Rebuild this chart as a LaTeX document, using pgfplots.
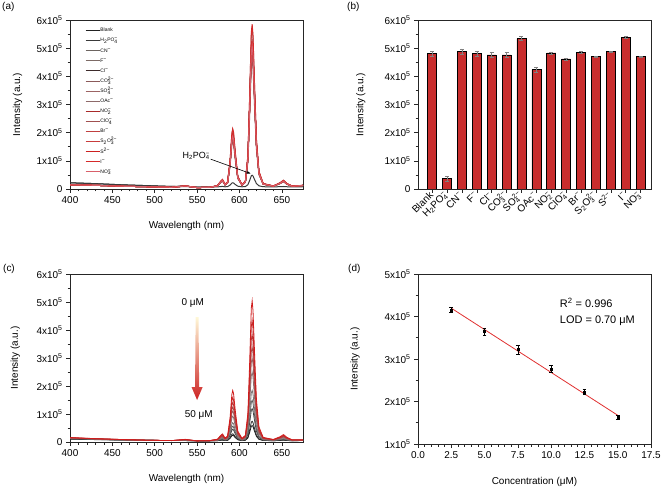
\documentclass[border=0pt]{standalone}
\usepackage{fontspec}
\setmainfont{Liberation Sans}
\usepackage{pgfplots}
\pgfplotsset{compat=1.18}
\usepackage{pgfplotstable}
\usetikzlibrary{arrows.meta}

% stacked sub/superscript for ions
\newsavebox\sbpA
\newsavebox\sbpB
\NewDocumentCommand{\sbp}{mm}{\sbox\sbpA{\textsubscript{#1}}\sbox\sbpB{\textsuperscript{#2}}\ifdim\wd\sbpA>\wd\sbpB\relax\rlap{\usebox\sbpB}\usebox\sbpA\else\rlap{\usebox\sbpA}\usebox\sbpB\fi}

\definecolor{barred}{RGB}{200,45,45}
\definecolor{aBlank}{HTML}{222222}
\definecolor{aHPO}{HTML}{3A3A3A}
\definecolor{aCN}{HTML}{6D6561}
\definecolor{aF}{HTML}{7D6B66}
\definecolor{aCl}{HTML}{3D2B2B}
\definecolor{aCO}{HTML}{8B5A5A}
\definecolor{aSO}{HTML}{9C6464}
\definecolor{aOAc}{HTML}{8E6A6A}
\definecolor{aNOii}{HTML}{A82A2A}
\definecolor{aClO}{HTML}{A05050}
\definecolor{aBr}{HTML}{C04040}
\definecolor{aSSO}{HTML}{C83C3C}
\definecolor{aS}{HTML}{CC2020}
\definecolor{aI}{HTML}{D52A2A}
\definecolor{aNOiii}{HTML}{D8606A}
\definecolor{c0}{HTML}{D01C1C}
\definecolor{c1}{HTML}{C42A2A}
\definecolor{c2}{HTML}{B83A3A}
\definecolor{c3}{HTML}{A85050}
\definecolor{c4}{HTML}{9A6262}
\definecolor{c5}{HTML}{8A7070}
\definecolor{c6}{HTML}{7A7474}
\definecolor{c7}{HTML}{5C5C5C}
\definecolor{c8}{HTML}{444444}
\definecolor{c9}{HTML}{2E2E2E}
\definecolor{c10}{HTML}{151515}
\definecolor{fitred}{HTML}{E03030}

% (a) emission spectra with anions, intensity in 1e5 a.u.
\pgfplotstableread{
x    blank h2po4 p455  p495  p505  p510  p515  p520  p570  p580
400  .22   .22   .15   .15   .15   .15   .15   .15   .15   .15
430  .19   .19   .13   .13   .13   .13   .13   .13   .13   .13
460  .15   .15   .10   .10   .10   .10   .10   .10   .10   .10
490  .12   .12   .08   .08   .08   .08   .08   .08   .08   .08
520  .09   .09   .06   .06   .06   .06   .06   .06   .06   .06
536  .107  .085  .10   .104  .106  .106  .107  .107  .112  .113
550  .05   .075  .05   .05   .05   .05   .05   .05   .05   .05
565  .06   .07   .059  .06   .06   .06   .06   .06   .061  .062
574  .112  .075  .105  .109  .111  .111  .112  .112  .118  .12
578  .256  .087  .232  .248  .252  .254  .256  .258  .278  .282
580  .308  .091  .278  .298  .303  .305  .308  .31   .335  .34
583  .153  .078  .141  .149  .151  .152  .153  .154  .164  .166
586  .23   .085  .209  .223  .227  .229  .23   .232  .25   .253
589  .926  .141  .824  .892  .909  .917  .926  .934  1.019 1.036
591  1.75  .209  1.552 1.684 1.717 1.733 1.75  1.766 1.931 1.964
592  1.904 .221  1.688 1.832 1.868 1.886 1.904 1.922 2.102 2.138
593  1.801 .213  1.597 1.733 1.767 1.784 1.801 1.818 1.988 2.022
595  1.183 .162  1.051 1.139 1.161 1.172 1.183 1.194 1.304 1.326
598  .411  .099  .369  .397  .404  .407  .411  .414  .449  .456
603  .143  .078  .132  .139  .141  .142  .143  .144  .153  .154
607  .256  .087  .232  .248  .252  .254  .256  .258  .278  .282
610  1.08  .154  .96   1.04  1.06  1.07  1.08  1.09  1.19  1.21
612  2.883 .301  2.553 2.773 2.828 2.855 2.883 2.91  3.185 3.24
614  4.943 .469  4.373 4.753 4.848 4.895 4.943 4.99  5.465 5.56
615  5.20  .49   4.60  5.00  5.10  5.15  5.20  5.25  5.75  5.85
616  4.84  .461  4.282 4.654 4.747 4.793 4.84  4.886 5.351 5.444
618  3.14  .322  2.78  3.02  3.08  3.11  3.14  3.17  3.47  3.53
620  1.595 .196  1.415 1.535 1.565 1.58  1.595 1.61  1.76  1.79
623  .565  .112  .505  .545  .555  .56   .565  .57   .62   .63
628  .179  .081  .164  .174  .176  .178  .179  .18   .193  .195
640  .102  .074  .096  .10   .101  .101  .102  .102  .107  .108
648  .205  .083  .187  .199  .202  .203  .205  .206  .221  .224
652  .282  .089  .255  .273  .277  .28   .282  .284  .307  .311
656  .179  .08   .164  .174  .176  .178  .179  .18   .193  .195
662  .101  .073  .096  .10   .10   .101  .101  .102  .106  .106
675  .126  .08   .123  .125  .125  .126  .126  .126  .129  .129
}\tabA

% (b) intensity at 615 nm, 1e5 a.u.
\pgfplotstableread{
x  y     e
0  4.80  0.08
1  0.37  0.08
2  4.88  0.10
3  4.80  0.09
4  4.76  0.09
5  4.76  0.09
6  5.34  0.07
7  4.24  0.08
8  4.83  0.03
9  4.62  0.03
10 4.85  0.03
11 4.70  0.03
12 4.88  0.03
13 5.38  0.03
14 4.70  0.02
}\tabB

% (c) titration spectra, 0 to 50 uM
\pgfplotstableread{
x   c0   c1    c2    c3    c4    c5    c6    c7    c8    c9    c10
400 .16  .155  .15   .145  .14   .135  .13   .12   .115  .11   .10
430 .12  .118  .115  .112  .11   .107  .104  .10   .095  .09   .085
460 .09  .09   .088  .086  .085  .083  .08   .078  .075  .072  .07
490 .065 .065  .064  .064  .063  .063  .062  .061  .06   .06   .06
520 .05  .05   .05   .05   .05   .05   .05   .05   .05   .05   .05
536 .095 .088  .083  .079  .075  .07   .063  .06   .057  .052  .051
550 .04  .04   .04   .04   .04   .04   .04   .04   .04   .04   .04
565 .05  .049  .048  .047  .046  .045  .044  .043  .042  .041  .041
574 .10  .092  .086  .08   .075  .069  .062  .057  .054  .048  .047
578 .24  .212  .192  .174  .158  .138  .112  .098  .086  .068  .062
580 .29  .255  .23   .208  .188  .163  .13   .113  .098  .075  .068
583 .14  .126  .116  .107  .099  .089  .076  .069  .063  .054  .051
586 .215 .191  .173  .157  .143  .126  .103  .091  .08   .065  .059
589 .89  .771  .686  .61   .542  .457  .346  .287  .236  .159  .134
591 1.69 1.459 1.294 1.146 1.014 .849  .634  .519  .42   .271  .222
592 1.84 1.588 1.408 1.246 1.102 .922  .688  .562  .454  .292  .238
593 1.74 1.502 1.332 1.179 1.043 .873  .652  .533  .431  .278  .227
595 1.14 .986  .876  .777  .689  .579  .436  .359  .293  .194  .161
598 .39  .341  .306  .275  .247  .212  .166  .142  .121  .089  .079
603 .13  .117  .108  .10   .093  .084  .072  .066  .061  .053  .05
607 .24  .212  .192  .174  .158  .138  .112  .098  .086  .068  .062
610 1.04 .90   .80   .71   .63   .53   .40   .33   .27   .18   .15
612 2.79 2.405 2.13  1.883 1.663 1.388 1.03  .838  .673  .425  .343
614 4.79 4.125 3.65  3.223 2.843 2.368 1.75  1.418 1.133 .705  .563
615 5.04 4.34  3.84  3.39  2.99  2.49  1.84  1.49  1.19  .74   .59
616 4.69 4.039 3.574 3.156 2.784 2.319 1.714 1.389 1.11  .691  .552
618 3.04 2.62  2.32  2.05  1.81  1.51  1.12  .91   .73   .46   .37
620 1.54 1.33  1.18  1.045 .925  .775  .58   .475  .385  .25   .205
623 .54  .47   .42   .375  .335  .285  .22   .185  .155  .11   .095
628 .165 .148  .135  .124  .114  .101  .085  .076  .069  .058  .054
640 .09  .083  .078  .074  .07   .065  .058  .055  .052  .047  .046
648 .19  .169  .154  .141  .129  .114  .094  .084  .075  .061  .057
652 .265 .234  .211  .191  .173  .15   .121  .105  .092  .072  .065
656 .165 .148  .135  .124  .114  .101  .085  .076  .069  .058  .054
662 .08  .074  .07   .067  .064  .06   .054  .052  .049  .046  .044
675 .075 .072  .069  .067  .065  .062  .059  .057  .056  .054  .053
}\tabC

\pgfplotsset{
  panel/.style={
    scale only axis, width=233bp,
    axis line style={line width=0.8bp, black!85},
    tick style={line width=0.6bp, black!85},
    tick align=outside, xtick pos=left, ytick pos=left,
    major tick length=4bp, minor tick length=2.5bp,
    tick label style={font=\fontsize{10}{12}\selectfont},
    label style={font=\fontsize{11}{13}\selectfont},
    /pgf/number format/assume math mode=true,
    every axis x label/.style={at={(axis description cs:0.5,-0.22)}, anchor=center},
    every axis y label/.style={at={(axis description cs:-0.225,0.5)}, rotate=90, anchor=center},
  },
  spec/.style={line width=1bp},
  specc/.style={line width=0.8bp},
  tenfive/.style={yticklabels={0,1x10\textsuperscript{5},2x10\textsuperscript{5},3x10\textsuperscript{5},4x10\textsuperscript{5},5x10\textsuperscript{5},6x10\textsuperscript{5}}},
}

\begin{document}
\begin{tikzpicture}
\path[use as bounding box] (0bp,0bp) rectangle (663bp,489bp);

% ---------------- (a)
\begin{axis}[panel, at={(70bp,300bp)}, anchor=south west, height=169bp,
  xmin=400, xmax=675, ymin=0, ymax=6,
  xtick={400,450,...,650}, minor x tick num=4,
  ytick={0,...,6}, minor y tick num=1, tenfive,
  xlabel={Wavelength (nm)}, ylabel={Intensity (a.u.)},
  legend cell align=left,
  legend style={at={(axis description cs:0.064,0.956)}, anchor=north west,
    draw=none, fill=none, inner sep=0pt, row sep=4.3bp,
    font=\fontsize{5}{5.5}\selectfont,
    nodes={inner sep=0.4bp, text height=3.8bp, text depth=1.2bp}},
  legend image code/.code={\draw[#1, line width=0.9bp] (0bp,0bp) -- (14bp,0bp);},
]
\addplot[spec, aBlank] table[x=x, y=blank] {\tabA}; \addlegendentry{Blank}
\addplot[spec, aHPO] table[x=x, y=h2po4] {\tabA}; \addlegendentry{H\textsubscript{2}PO\sbp{4}{−}}
\addplot[spec, aCN] table[x=x, y=p520] {\tabA}; \addlegendentry{CN\textsuperscript{−}}
\addplot[spec, aF] table[x=x, y=p515] {\tabA}; \addlegendentry{F\textsuperscript{−}}
\addplot[spec, aCl] table[x=x, y=p510] {\tabA}; \addlegendentry{Cl\textsuperscript{−}}
\addplot[spec, aCO] table[x=x, y=p510] {\tabA}; \addlegendentry{CO\sbp{3}{2−}}
\addplot[spec, aSO] table[x=x, y=p570] {\tabA}; \addlegendentry{SO\sbp{4}{2−}}
\addplot[spec, aOAc] table[x=x, y=p455] {\tabA}; \addlegendentry{OAc\textsuperscript{−}}
\addplot[spec, aNOii] table[x=x, y=p515] {\tabA}; \addlegendentry{NO\sbp{2}{−}}
\addplot[spec, aClO] table[x=x, y=p495] {\tabA}; \addlegendentry{ClO\sbp{4}{−}}
\addplot[spec, aBr] table[x=x, y=p520] {\tabA}; \addlegendentry{Br\textsuperscript{−}}
\addplot[spec, aSSO] table[x=x, y=p505] {\tabA}; \addlegendentry{S\textsubscript{2}O\sbp{3}{2−}}
\addplot[spec, aS] table[x=x, y=p520] {\tabA}; \addlegendentry{S\textsuperscript{2−}}
\addplot[spec, aI] table[x=x, y=p580] {\tabA}; \addlegendentry{I\textsuperscript{−}}
\addplot[spec, aNOiii] table[x=x, y=p505] {\tabA}; \addlegendentry{NO\sbp{3}{−}}
\node[font=\fontsize{9}{11}\selectfont] at (axis cs:549,1.16) {H\textsubscript{2}PO\sbp{4}{−}};
\draw[-{Stealth[length=4bp,width=3bp]}, line width=0.6bp] (axis cs:566,1.06) -- (axis cs:613,0.55);
\end{axis}

% ---------------- (b)
\begin{axis}[panel, at={(418bp,300bp)}, anchor=south west, height=169bp,
  xmin=-0.95, xmax=14.7, ymin=0, ymax=6,
  xtick={0,...,14},
  xticklabels={Blank, H\textsubscript{2}PO\sbp{4}{−}, CN\textsuperscript{−}, F\textsuperscript{−}, Cl\textsuperscript{−}, CO\sbp{3}{2−}, SO\sbp{4}{2−}, OAc\textsuperscript{−}, NO\sbp{2}{−}, ClO\sbp{4}{−}, Br\textsuperscript{−}, S\textsubscript{2}O\sbp{3}{2−}, S\textsuperscript{2−}, I\textsuperscript{−}, NO\sbp{3}{−}},
  xticklabel style={rotate=45, anchor=east, inner sep=1bp},
  ytick={0,...,6}, minor y tick num=1, tenfive,
  ylabel={Intensity (a.u.)},
  every axis y label/.style={at={(axis description cs:-0.245,0.5)}, rotate=90, anchor=center},
]
\addplot[ybar, bar width=9bp, fill=barred, draw=black, line width=0.7bp,
  error bars/.cd, y dir=both, y explicit,
  error bar style={black!50, line width=0.5bp},
  error mark options={rotate=90, mark size=2bp, black!50}]
  table[x=x, y=y, y error=e] {\tabB};
\end{axis}

% ---------------- (c)
\begin{axis}[panel, at={(70bp,47bp)}, anchor=south west, height=168bp,
  xmin=400, xmax=675, ymin=0, ymax=6,
  xtick={400,450,...,650}, minor x tick num=4,
  ytick={0,...,6}, minor y tick num=1, tenfive,
  xlabel={Wavelength (nm)}, ylabel={Intensity (a.u.)},
  every axis y label/.style={at={(axis description cs:-0.235,0.5)}, rotate=90, anchor=center},
]
\addplot[specc, c10] table[x=x, y=c10] {\tabC};
\addplot[specc, c9] table[x=x, y=c9] {\tabC};
\addplot[specc, c8] table[x=x, y=c8] {\tabC};
\addplot[specc, c7] table[x=x, y=c7] {\tabC};
\addplot[specc, c6] table[x=x, y=c6] {\tabC};
\addplot[specc, c5] table[x=x, y=c5] {\tabC};
\addplot[specc, c4] table[x=x, y=c4] {\tabC};
\addplot[specc, c3] table[x=x, y=c3] {\tabC};
\addplot[specc, c2] table[x=x, y=c2] {\tabC};
\addplot[specc, c1] table[x=x, y=c1] {\tabC};
\addplot[specc, c0] table[x=x, y=c0] {\tabC};
\shade[top color={rgb,255:red,255;green,248;blue,215}, middle color={rgb,255:red,218;green,160;blue,150}, bottom color={rgb,255:red,205;green,35;blue,35}]
  (axis cs:548.3,4.46) -- (axis cs:551.7,4.46) -- (axis cs:552.4,1.96) -- (axis cs:556.5,1.96)
  -- (axis cs:550,1.5) -- (axis cs:543.5,1.96) -- (axis cs:547.6,1.96) -- cycle;
\node[font=\fontsize{10}{12}\selectfont] at (axis cs:545,4.96) {0 μM};
\node[font=\fontsize{10}{12}\selectfont] at (axis cs:552,0.96) {50 μM};
\end{axis}

% ---------------- (d)
\begin{axis}[panel, at={(418bp,45bp)}, anchor=south west, height=170bp,
  xmin=0, xmax=17.5, ymin=1, ymax=5,
  xtick={0,2.5,...,17.5}, minor x tick num=4,
  xticklabel style={/pgf/number format/.cd, fixed, fixed zerofill, precision=1},
  ytick={1,...,5}, minor y tick num=1,
  yticklabels={1x10\textsuperscript{5},2x10\textsuperscript{5},3x10\textsuperscript{5},4x10\textsuperscript{5},5x10\textsuperscript{5}},
  xlabel={Concentration (μM)}, ylabel={Intensity (a.u.)},
  every axis x label/.style={at={(axis description cs:0.5,-0.225)}, anchor=center},
  every axis y label/.style={at={(axis description cs:-0.27,0.5)}, rotate=90, anchor=center},
]
\addplot[fitred, line width=0.8bp] coordinates {(2.5,4.196) (15,1.676)};
\addplot[only marks, mark=square*, mark size=1bp, black,
  error bars/.cd, y dir=both, y explicit,
  error bar style={black, line width=0.5bp},
  error mark options={rotate=90, mark size=1.8bp, black}]
  coordinates {(2.5,4.16) +- (0,0.07) (5.0,3.65) +- (0,0.08) (7.5,3.22) +- (0,0.10)
               (10.0,2.77) +- (0,0.08) (12.5,2.23) +- (0,0.05) (15.0,1.63) +- (0,0.05)};
\node[anchor=west, font=\fontsize{11}{13}\selectfont] at (axis cs:10.4,4.32) {R\textsuperscript{2} = 0.996};
\node[anchor=west, font=\fontsize{11}{13}\selectfont] at (axis cs:10.4,3.89) {LOD = 0.70 μM};
\end{axis}

% panel labels
\node[anchor=west, inner sep=0pt, font=\fontsize{10}{12}\selectfont] at (2bp,482bp) {(a)};
\node[anchor=west, inner sep=0pt, font=\fontsize{10}{12}\selectfont] at (347bp,482bp) {(b)};
\node[anchor=west, inner sep=0pt, font=\fontsize{10}{12}\selectfont] at (3bp,220bp) {(c)};
\node[anchor=west, inner sep=0pt, font=\fontsize{10}{12}\selectfont] at (348bp,220bp) {(d)};
\end{tikzpicture}
\end{document}
